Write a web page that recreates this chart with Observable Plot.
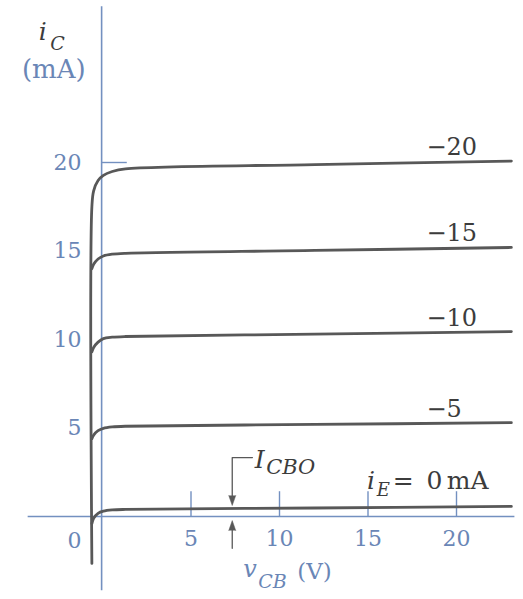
<!DOCTYPE html>
<html>
<head>
<meta charset="utf-8">
<script src="https://cdn.jsdelivr.net/npm/d3@7"></script>
<script src="https://cdn.jsdelivr.net/npm/@observablehq/plot@0.6"></script>
<style>
  html, body { margin: 0; padding: 0; background: #ffffff; }
  #chart svg { display: block; }
</style>
</head>
<body>
<div id="chart"></div>
<script>
// Common-base output characteristics of a BJT: collector current vs v_CB
// for several emitter currents.

// emitter current of each curve (mA)
const iE = [0, -5, -10, -15, -20];

// sample points along v_CB (V), shared by every curve
const vCB = [-0.6, -0.5, -0.25, 0.05, 0.55, 1.3, 12, 23.1];

// collector current (mA) at each v_CB sample, one array per emitter current
const iC_0   = [-0.4, -0.1, 0.18, 0.3, 0.37, 0.4, 0.48, 0.57];
const iC_5   = [4.4, 4.6, 4.85, 4.98, 5.06, 5.1, 5.2, 5.3];
const iC_10  = [9.3, 9.55, 9.85, 10.05, 10.13, 10.17, 10.3, 10.45];
const iC_15  = [14.0, 14.25, 14.55, 14.72, 14.82, 14.87, 15.03, 15.2];
const iC_20  = [17.5, 18.4, 18.98, 19.27, 19.49, 19.64, 19.88, 20.08];
const iCurves = [iC_0, iC_5, iC_10, iC_15, iC_20];

// lower end of the common saturation branch (mA)
const iSatBottom = -2.65;

// axis ticks
const xTicks = [5, 10, 15, 20];
const yTicks = [5, 10, 15, 20];

// where the I_CBO pointer sits (V)
const vCBO = 7.33;

// ---- build the table Plot draws from ----
const rows = [];
iE.forEach((e, k) => {
  if (k === iE.length - 1) rows.push({iE: e, v: vCB[0], i: iSatBottom});
  vCB.forEach((v, j) => rows.push({iE: e, v, i: iCurves[k][j]}));
});
const curveLabels = iE.slice(1).map((e, k) => ({iE: e, i: iCurves[k + 1][iCurves[k + 1].length - 1]}));

const axisBlue = "#7390c0";
const labelBlue = "#6a86b6";
const ink = "#3c3c3c";
const curveInk = "#585858";
const serif = "DejaVu Serif";

// single text label helper
const label = (t, x, y, o = {}) => Plot.text([t], {
  x: () => x, y: () => y, text: d => d,
  fontFamily: serif, fontSize: 22, fill: ink, textAnchor: "start", lineAnchor: "bottom",
  ...o
});

const chart = Plot.plot({
  width: 523,
  height: 599,
  margin: 0,
  style: {background: "#ffffff", overflow: "visible"},
  x: {domain: [-102 / 17.7, (523 - 102) / 17.7], axis: null},
  y: {domain: [(516 - 599) / 17.7, 516 / 17.7], axis: null},
  marks: [
    // axes
    Plot.ruleY([0], {x1: -4.2, x2: 23.3, stroke: axisBlue, strokeWidth: 1.6}),
    Plot.ruleX([-0.05], {y1: -4.2, y2: 28.8, stroke: axisBlue, strokeWidth: 1.6}),
    Plot.ruleX(xTicks, {y1: 0, y2: 1.4, stroke: axisBlue, strokeWidth: 1.4}),
    Plot.ruleY(yTicks.filter(t => t === 20), {x1: 0, x2: 1.4, stroke: axisBlue, strokeWidth: 1.4}),

    // tick labels
    Plot.text(xTicks, {x: d => d, y: 0, dy: 22, text: d => String(d),
      fontFamily: serif, fontSize: 22, fill: labelBlue}),
    Plot.text(yTicks, {x: 0, y: d => d, dx: -21, text: d => String(d),
      fontFamily: serif, fontSize: 22, fill: labelBlue, textAnchor: "end"}),
    Plot.text([0], {x: 0, y: 0, dx: -21, dy: 24, text: d => String(d),
      fontFamily: serif, fontSize: 22, fill: labelBlue, textAnchor: "end"}),

    // axis titles
    label("i", -3.6, 26.9, {fontStyle: "italic", fontSize: 25}),
    label("C", -2.95, 26.35, {fontStyle: "italic", fontSize: 19}),
    label("(mA)", -4.55, 24.75, {fontSize: 26, fill: labelBlue}),
    label("v", 7.95, -3.4, {fontStyle: "italic", fontSize: 24, fill: labelBlue}),
    label("CB", 8.8, -4.05, {fontStyle: "italic", fontSize: 19, fill: labelBlue}),
    label("(V)", 11.0, -3.55, {fontSize: 23, fill: labelBlue}),

    // characteristic curves
    Plot.line(rows, {x: "v", y: "i", z: "iE", curve: "catmull-rom",
      stroke: curveInk, strokeWidth: 2.8, strokeLinejoin: "round"}),

    // emitter-current labels
    Plot.text(curveLabels, {x: 18.3, y: "i", dy: -6, text: d => "\u2212" + Math.abs(d.iE),
      fontFamily: serif, fontSize: 24, fill: ink, textAnchor: "start", lineAnchor: "bottom"}),
    label("i", 14.95, 1.58, {fontStyle: "italic", fontSize: 25}),
    label("E", 15.5, 1.15, {fontStyle: "italic", fontSize: 18}),
    label("=", 16.4, 1.58, {fontSize: 25}),
    label("0", 18.3, 1.58, {fontSize: 25}),
    label("mA", 19.45, 1.58, {fontSize: 25}),

    // I_CBO pointer
    Plot.line([[8.47, 3.33], [vCBO, 3.33], [vCBO, 1.1]], {stroke: curveInk, strokeWidth: 1.3}),
    Plot.vector([0], {x: () => vCBO, y: () => 0.62, rotate: 180, length: 10, r: 3.5,
      shape: "spike", anchor: "end", fill: curveInk, stroke: curveInk, strokeWidth: 0.5}),
    Plot.line([[vCBO, -1.8], [vCBO, -0.7]], {stroke: curveInk, strokeWidth: 1.3}),
    Plot.vector([0], {x: () => vCBO, y: () => -0.23, rotate: 0, length: 10, r: 3.5,
      shape: "spike", anchor: "end", fill: curveInk, stroke: curveInk, strokeWidth: 0.5}),
    label("I", 8.6, 2.75, {fontStyle: "italic", fontSize: 25}),
    label("CBO", 9.25, 2.4, {fontStyle: "italic", fontSize: 21})
  ]
});

document.getElementById("chart").appendChild(chart);
</script>
</body>
</html>
